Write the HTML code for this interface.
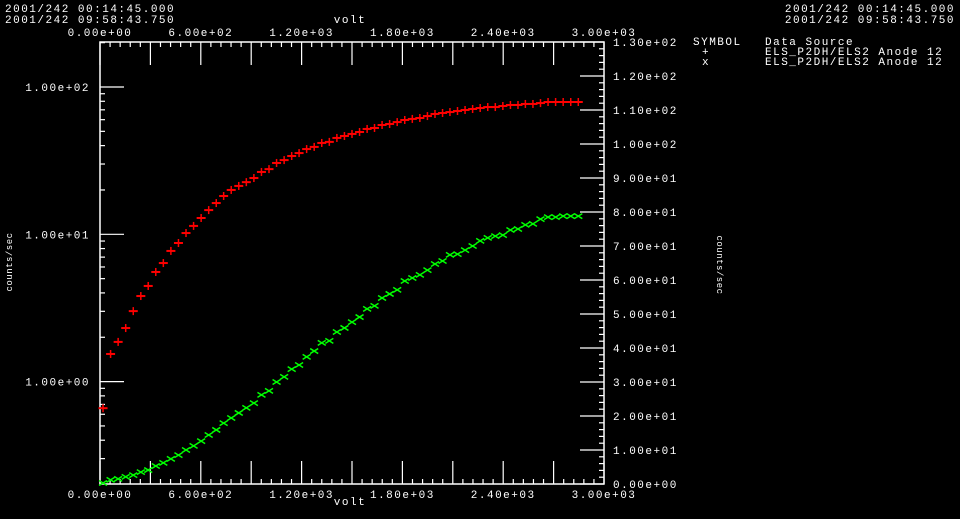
<!DOCTYPE html>
<html><head><meta charset="utf-8"><style>
html,body{margin:0;padding:0;background:#000;}
svg{display:block;}
text{font-family:"Liberation Mono",monospace;font-size:11px;fill:#fff;letter-spacing:1.5px;}
</style></head><body>
<svg id="chart" width="960" height="519" xmlns="http://www.w3.org/2000/svg">
<rect width="960" height="519" fill="#000"/>
<text x="5" y="12">2001/242 00:14:45.000</text>
<text x="5" y="23">2001/242 09:58:43.750</text>
<text x="955" y="12" text-anchor="end">2001/242 00:14:45.000</text>
<text x="955" y="23" text-anchor="end">2001/242 09:58:43.750</text>
<text x="350" y="23" text-anchor="middle">volt</text>
<text x="350" y="505" text-anchor="middle">volt</text>
<text transform="translate(12,262) rotate(-90)" text-anchor="middle" style="font-size:9px;letter-spacing:0.5px">counts/sec</text>
<text transform="translate(717,265) rotate(90)" text-anchor="middle" style="font-size:9px;letter-spacing:0.5px">counts/sec</text>
<g>
<text x="693" y="45">SYMBOL</text>
<text x="765" y="45">Data Source</text>
<text x="702" y="55">+</text>
<text x="702" y="65">x</text>
<text x="765" y="55">ELS_P2DH/ELS2 Anode 12</text>
<text x="765" y="65">ELS_P2DH/ELS2 Anode 12</text>
</g>
<g id="axes"></g>
<g id="marks"></g>
</svg>
<script>
const volts = [18,63,108,153,198,243,287,332,377,422,467,512,557,602,647,692,736,781,826,871,916,961,1006,1051,1096,1141,1185,1230,1275,1320,1365,1410,1455,1500,1545,1590,1634,1679,1724,1769,1814,1859,1904,1949,1994,2039,2083,2128,2173,2218,2263,2308,2353,2398,2443,2488,2532,2577,2622,2667,2712,2757,2802,2847];
const redCounts = [0.66,1.54,1.86,2.31,3.01,3.81,4.46,5.55,6.38,7.71,8.73,10.2,11.4,12.9,14.6,16.3,18.2,20.0,21.3,22.6,24.1,26.5,27.7,30.5,31.9,34.0,35.6,37.9,39.2,41.7,42.4,45.1,46.5,48.0,49.5,51.9,52.7,55.2,56.1,57.8,59.7,60.7,61.6,63.5,65.6,66.6,67.6,68.7,69.8,70.9,72.0,73.1,73.1,74.3,75.5,75.5,76.7,76.7,77.8,79.1,79.1,79.1,79.1,79.1];
const greenCounts = [0.3,1.2,1.5,2.1,2.6,3.5,4.1,5.3,6.2,7.4,8.5,10.0,11.2,12.6,14.4,15.9,17.9,19.4,20.9,22.4,23.8,26.2,27.4,30.0,31.5,33.8,35.0,37.4,39.1,41.5,42.1,44.7,45.9,47.6,49.1,51.5,52.4,54.7,55.9,57.1,59.7,60.6,61.5,62.9,64.7,65.6,67.4,67.6,68.8,70.0,71.5,72.4,72.9,73.2,74.7,75.0,76.2,76.5,77.9,78.5,78.5,78.8,78.8,78.8];
const xTickLabels = ["0.00e+00","6.00e+02","1.20e+03","1.80e+03","2.40e+03","3.00e+03"];
const leftTickLabels = ["1.00e+00","1.00e+01","1.00e+02"];
const rightTickLabels = ["0.00e+00","1.00e+01","2.00e+01","3.00e+01","4.00e+01","5.00e+01","6.00e+01","7.00e+01","8.00e+01","9.00e+01","1.00e+02","1.10e+02","1.20e+02","1.30e+02"];

const L=100,R=604,T=42,B=484;
const xS=v=>L+v*(R-L)/3000;
const yLog=v=>234.3-(Math.log10(v)-1)*147.3;
const yLin=v=>B-v*(B-T)/130;
const NS='http://www.w3.org/2000/svg';
const axes=document.getElementById('axes'), marks=document.getElementById('marks');
function line(p,x1,y1,x2,y2,c,w){const e=document.createElementNS(NS,'line');e.setAttribute('x1',x1);e.setAttribute('y1',y1);e.setAttribute('x2',x2);e.setAttribute('y2',y2);e.setAttribute('stroke',c);e.setAttribute('stroke-width',w||1);p.appendChild(e);return e;}
function txt(x,y,s,anchor){const e=document.createElementNS(NS,'text');e.setAttribute('x',x);e.setAttribute('y',y);e.setAttribute('text-anchor',anchor);e.textContent=s;axes.appendChild(e);return e;}
const frame=document.createElementNS(NS,'rect');
frame.setAttribute('x',L);frame.setAttribute('y',T);frame.setAttribute('width',R-L);frame.setAttribute('height',B-T);
frame.setAttribute('fill','none');frame.setAttribute('stroke','#fff');frame.setAttribute('stroke-width','1.5');


axes.appendChild(frame);
for(let v=0;v<=3000;v+=60){const x=xS(v);const len=(v%300===0)?23:5;
 let t=line(axes,x,T,x,T+len,'#fff',1.2);
 
 
 t=line(axes,x,B,x,B-len,'#fff',1.2);
 
 }
xTickLabels.forEach((s,i)=>{const x=xS(i*600);
 let e=txt(x,36,s,'middle');
 
 
 e=txt(x,498,s,'middle');
 
 });
for(let d=-1;d<=2;d++){for(let m=1;m<10;m++){const v=m*Math.pow(10,d);const y=yLog(v);if(y<T||y>B)continue;
 const t=line(axes,L,y,L+(m===1?24:5),y,'#fff',1.2);
 
 }}
leftTickLabels.forEach((s,i)=>{const e=txt(90,yLog(Math.pow(10,i))+4,s,'end');
 
 });
for(let v=0;v<=130;v+=2){const y=yLin(v);
 const t=line(axes,R,y,R-(v%10===0?24:5),y,'#fff',1.2);
 
 }
rightTickLabels.forEach((s,i)=>{const e=txt(613,yLin(i*10)+4,s,'start');
 
 });
volts.forEach((v,i)=>{const x=xS(v);
 const y=yLog(redCounts[i]);
 const g=document.createElementNS(NS,'g');
 
 
 line(g,x-4.5,y,x+4.5,y,'#f00',2);line(g,x,y-4,x,y+4,'#f00',1.5);marks.appendChild(g);
 const y2=yLin(greenCounts[i]);
 const h=document.createElementNS(NS,'g');
 
 
 line(h,x-4,y2-2.5,x+4,y2+2.5,'#0f0',1.5);line(h,x-4,y2+2.5,x+4,y2-2.5,'#0f0',1.5);marks.appendChild(h);
});
</script>
</body></html>
